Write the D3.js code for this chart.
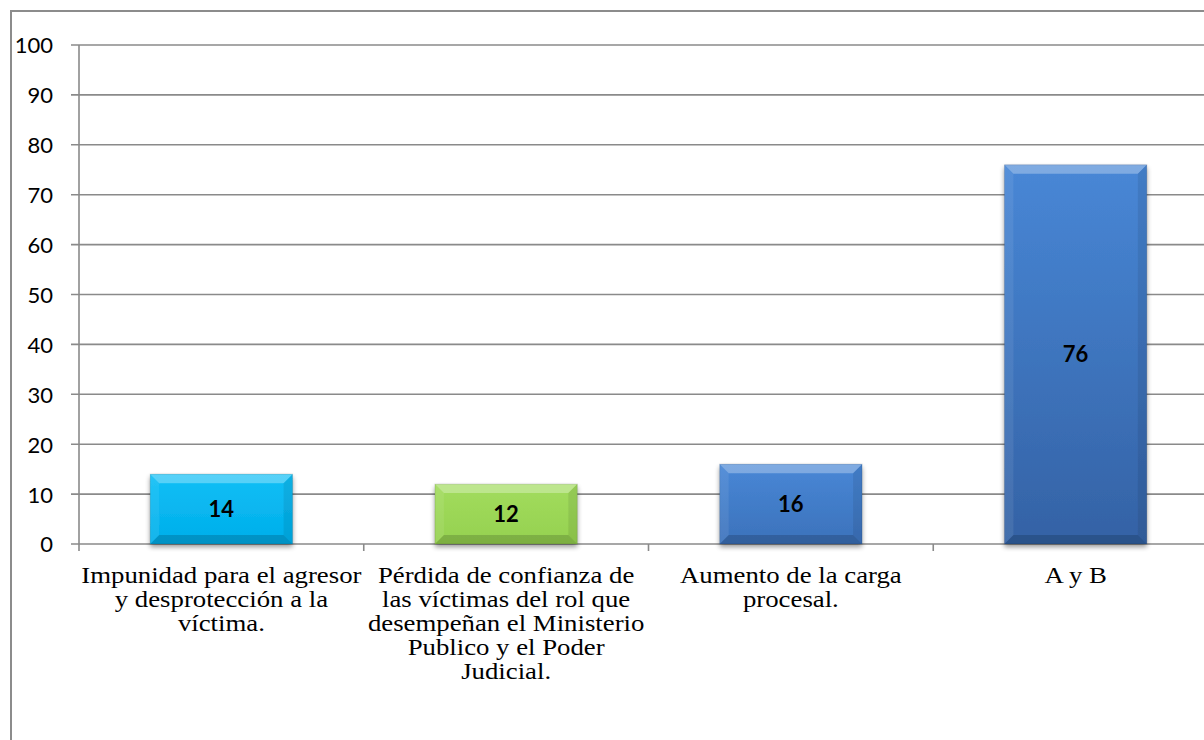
<!DOCTYPE html>
<html>
<head>
<meta charset="utf-8">
<script src="https://cdn.jsdelivr.net/npm/d3@7"></script>
<style>
  body { margin: 0; background: #fff; }
  svg { display: block; }
  .tick text { font-family: Lato, "Open Sans", sans-serif; font-size: 22px; fill: #000; }
  .cat { font-family: "Liberation Serif", "Times New Roman", serif; font-size: 22.5px; fill: #000; }
  .val { font-family: Lato, "Open Sans", sans-serif; font-size: 22px; font-weight: bold; fill: #000; }
</style>
</head>
<body>
<div id="app"></div>
<script>
// categories (line breaks as in the chart)
const categories = [
  'Impunidad para el agresor\ny desprotección a la\nvíctima.',
  'Pérdida de confianza de\nlas víctimas del rol que\ndesempeñan el Ministerio\nPublico y el Poder\nJudicial.',
  'Aumento de la carga\nprocesal.',
  'A y B'
];
const values = [14, 12, 16, 76];
const barColors = [
  ['#10bff6', '#00aeea'],
  ['#a2dc5e', '#95d14f'],
  ['#4887d6', '#3c72bb'],
  ['#4887d6', '#3462a5']
];
const yTicks = [0, 10, 20, 30, 40, 50, 60, 70, 80, 90, 100];

const W = 1204, H = 740;
const margin = { top: 45, right: -14, bottom: 196, left: 79 };
const width = W - margin.left - margin.right,
  height = H - margin.top - margin.bottom;

const root = d3.select('#app').append('svg')
  .attr('width', W)
  .attr('height', H);

const defs = root.append('defs');

// soft shadow under bars
const shadow = defs.append('filter').attr('id', 'shadow')
  .attr('x', '-10%').attr('y', '-10%').attr('width', '130%').attr('height', '130%');
shadow.append('feGaussianBlur').attr('in', 'SourceAlpha').attr('stdDeviation', 2.5);
shadow.append('feOffset').attr('dx', 0).attr('dy', 3).attr('result', 'off');
shadow.append('feComponentTransfer').append('feFuncA').attr('type', 'linear').attr('slope', 0.4);
const merge = shadow.append('feMerge');
merge.append('feMergeNode');
merge.append('feMergeNode').attr('in', 'SourceGraphic');

barColors.forEach((c, i) => {
  const g = defs.append('linearGradient').attr('id', 'grad' + i)
    .attr('x1', 0).attr('y1', 0).attr('x2', 0).attr('y2', 1);
  g.append('stop').attr('offset', '0%').attr('stop-color', c[0]);
  g.append('stop').attr('offset', '100%').attr('stop-color', c[1]);
});

// outer chart frame
root.append('rect')
  .attr('x', 11).attr('y', 11)
  .attr('width', W + 20).attr('height', H + 20)
  .attr('fill', 'none')
  .attr('stroke', '#8c8c8c')
  .attr('stroke-width', 2);

const svg = root.append('g')
  .attr('transform', 'translate(' + margin.left + ',' + margin.top + ')');

const x = d3.scaleBand()
  .domain(categories)
  .range([0, width])
  .paddingInner(0.5)
  .paddingOuter(0.25);

const y = d3.scaleLinear()
  .domain([0, 100])
  .range([height, 0]);

// gridlines
svg.append('g')
  .selectAll('line')
  .data(yTicks)
  .enter()
  .append('line')
  .attr('x1', -8)
  .attr('x2', width)
  .attr('y1', d => y(d))
  .attr('y2', d => y(d))
  .attr('stroke', '#8a8a8a')
  .attr('stroke-width', 1.6);

// y axis
const gy = svg.append('g')
  .call(d3.axisLeft(y).tickValues(yTicks).tickSize(0).tickPadding(26));
gy.select('.domain').remove();
gy.selectAll('.tick text').attr('dy', '0.36em');

svg.append('line')
  .attr('x1', 0).attr('x2', 0)
  .attr('y1', y(100)).attr('y2', height + 7)
  .attr('stroke', '#8a8a8a')
  .attr('stroke-width', 1.6);

// x category separators
const step = x.step();
svg.append('g')
  .selectAll('line')
  .data(categories.slice(1))
  .enter()
  .append('line')
  .attr('x1', (d, i) => step * (i + 1))
  .attr('x2', (d, i) => step * (i + 1))
  .attr('y1', height)
  .attr('y2', height + 7)
  .attr('stroke', '#8a8a8a')
  .attr('stroke-width', 1.6);

// bars
const bars = svg.selectAll('.bar')
  .data(values)
  .enter()
  .append('g')
  .attr('class', 'bar')
  .attr('filter', 'url(#shadow)');

const bw = x.bandwidth();
const bev = 9;

bars.append('rect')
  .attr('x', (d, i) => x(categories[i]))
  .attr('y', d => y(d))
  .attr('width', bw)
  .attr('height', d => y(0) - y(d))
  .attr('fill', (d, i) => 'url(#grad' + i + ')');

// bevel faces
function face(d, i, side) {
  const x0 = x(categories[i]), x1 = x0 + bw;
  const y0 = y(d), y1 = y(0);
  const b = Math.min(bev, (y1 - y0) / 2);
  const pts = {
    top: [[x0, y0], [x1, y0], [x1 - b, y0 + b], [x0 + b, y0 + b]],
    bottom: [[x0, y1], [x1, y1], [x1 - b, y1 - b], [x0 + b, y1 - b]],
    left: [[x0, y0], [x0 + b, y0 + b], [x0 + b, y1 - b], [x0, y1]],
    right: [[x1, y0], [x1 - b, y0 + b], [x1 - b, y1 - b], [x1, y1]]
  }[side];
  return 'M' + pts.map(p => p.join(',')).join('L') + 'Z';
}

const faces = [
  ['top', '#ffffff', 0.3],
  ['left', '#ffffff', 0.08],
  ['right', '#000000', 0.08],
  ['bottom', '#000000', 0.16]
];
faces.forEach(f => {
  bars.append('path')
    .attr('d', (d, i) => face(d, i, f[0]))
    .attr('fill', f[1])
    .attr('fill-opacity', f[2]);
});

bars.append('rect')
  .attr('x', (d, i) => x(categories[i]))
  .attr('y', d => y(d))
  .attr('width', bw)
  .attr('height', d => y(0) - y(d))
  .attr('fill', 'none')
  .attr('stroke', '#000')
  .attr('stroke-opacity', 0.12)
  .attr('stroke-width', 1);

// value labels
svg.selectAll('.val')
  .data(values)
  .enter()
  .append('text')
  .attr('class', 'val')
  .attr('text-anchor', 'middle')
  .attr('x', (d, i) => x(categories[i]) + bw / 2)
  .attr('y', d => (y(d) + y(0)) / 2)
  .attr('dy', '0.36em')
  .text(d => d);

// category labels (the source text is a little stretched sideways)
const cats = svg.selectAll('.cat')
  .data(categories)
  .enter()
  .append('text')
  .attr('class', 'cat')
  .attr('text-anchor', 'middle')
  .attr('transform', d => 'translate(' + (x(d) + bw / 2) + ',' + (height + 39) + ') scale(1.19,1)');

cats.selectAll('tspan')
  .data(d => d.split('\n'))
  .enter()
  .append('tspan')
  .attr('x', 0)
  .attr('dy', (d, i) => i === 0 ? 0 : 24)
  .text(d => d);
</script>
</body>
</html>
